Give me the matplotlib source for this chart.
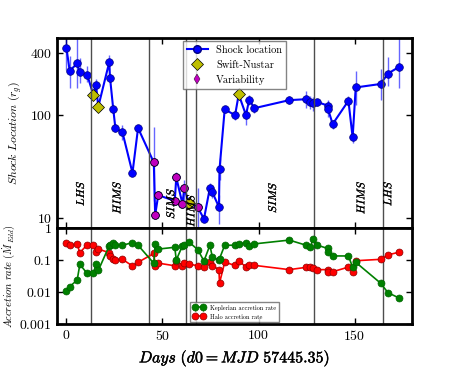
import numpy as np
import matplotlib
matplotlib.use('Agg')
import matplotlib.pyplot as plt
import matplotlib.patheffects as pe
from matplotlib.lines import Line2D
from matplotlib.ticker import FixedLocator, NullLocator

plt.rcParams['font.family'] = 'serif'
plt.rcParams['font.serif'] = ['cmr10', 'DejaVu Serif']
plt.rcParams['mathtext.fontset'] = 'cm'
plt.rcParams['axes.formatter.use_mathtext'] = True

# days since MJD 57445.35
days = [0, 1.7, 5.6, 7.0, 10.8, 14.1, 15.4, 16.6, 22.3, 22.7, 24.4, 25.5, 29.2, 34.4,
        37.3, 45.5, 46.2, 47.8, 56.4, 57.2, 60.4, 61.4, 63.7, 68.4, 71.6, 74.7, 76.0,
        79.4, 79.7, 82.4, 87.8, 89.7, 93.5, 95.1, 97.9, 116.0, 124.8, 126.9, 128.4,
        130.7, 136.0, 136.1, 138.6, 146.8, 149.0, 150.6, 163.5, 167.4, 173.1]

shock = [454, 270, 318, 260, 248, 156, 196, 121, 327, 232, 114, 75, 68, 27.5,
         75, 34.7, 10.7, 16.7, 14.7, 24.8, 13.8, 19.7, 13.9, 12.7, 9.8, 19.7, 17.8,
         12.8, 29.7, 114, 100, 159, 100, 141, 117, 140, 143, 134, 131,
         134, 124, 116, 82, 138, 60.7, 186, 201, 254, 294]
shock_lo = [180, 85, 135, 55, 40, 0, 30, 0, 50, 20, 8, 7, 10, 1,
            5, 20, 0.5, 1, 1, 3, 1, 5, 0, 7, 0.5, 2, 2,
            4, 6, 8, 10, 0, 20, 15, 12, 12, 25, 20, 20,
            10, 15, 20, 8, 15, 7, 60, 60, 60, 110]
shock_hi = [250, 110, 300, 100, 55, 0, 30, 0, 60, 20, 8, 7, 12, 1,
            5, 42, 0.5, 1, 1, 3, 1, 4, 0, 7, 0.5, 2, 2,
            4, 9, 8, 10, 0, 15, 15, 12, 12, 30, 20, 20,
            10, 15, 20, 8, 15, 7, 80, 80, 110, 300]

swift_days = [14.1, 16.6, 63.7, 89.7]
swift_vals = [156, 121, 13.9, 159]

var_days = [45.5, 46.2, 47.8, 56.4, 57.2, 60.4, 61.4, 68.4]
var_vals = [34.7, 10.7, 16.7, 14.7, 24.8, 13.8, 19.7, 12.7]

kep = [0.011, 0.0148, 0.0234, 0.073, 0.038, 0.038, 0.075, 0.047, 0.28, 0.30, 0.35, 0.29, 0.29, 0.35,
       0.29, 0.079, 0.31, 0.22, 0.25, 0.10, 0.28, 0.29, 0.37, 0.21, 0.093, 0.29, 0.12,
       0.10, 0.11, 0.29, 0.29, 0.31, 0.35, 0.28, 0.32, 0.42, 0.29, 0.25, 0.45,
       0.29, 0.23, 0.175, 0.134, 0.134, 0.059, 0.085, 0.019, 0.0095, 0.0065]
halo = [0.34, 0.29, 0.31, 0.17, 0.30, 0.30, 0.18, 0.22, 0.17, 0.137, 0.105, 0.10, 0.105, 0.065,
        0.085, 0.16, 0.067, 0.08, 0.066, 0.095, 0.067, 0.078, 0.075, 0.066, 0.06, 0.085, 0.067,
        0.05, 0.019, 0.085, 0.068, 0.095, 0.06, 0.068, 0.068, 0.05, 0.059, 0.059, 0.058,
        0.05, 0.05, 0.043, 0.043, 0.06, 0.043, 0.095, 0.105, 0.145, 0.175]

state_lines = [13, 43, 62, 67.5, 129, 165]
state_labels = [(7, 'LHS'), (26, 'HIMS'), (54, 'SIMS'), (64.5, 'HIMS'),
                (107, 'SIMS'), (153, 'HIMS'), (167, 'LHS')]
state_label_y = [17.5, 16, 14, 12, 16, 16, 17.5]

fig = plt.figure(figsize=(4.58, 3.82), dpi=100)
ax1 = fig.add_axes([0.124, 0.403, 0.776, 0.497])
ax2 = fig.add_axes([0.124, 0.152, 0.776, 0.251], sharex=ax1)

# top panel: shock location
ax1.errorbar(days, shock, yerr=[shock_lo, shock_hi], fmt='none', ecolor='blue',
             elinewidth=1, alpha=0.6, capsize=0)
ax1.plot(days, shock, '-o', color='blue', lw=1.5, ms=5.5, mec='navy', mew=0.5)
ax1.plot(swift_days, swift_vals, 'D', color='y', mec='k', mew=0.5, ms=6, ls='none')
ax1.plot(var_days, var_vals, 'o', color='m', mec='k', mew=0.5, ms=5.5, ls='none')

for d in state_lines:
    ax1.axvline(d, color='0.3', lw=1)
    ax2.axvline(d, color='0.3', lw=1)
for (d, lab), y in zip(state_labels, state_label_y):
    ax1.text(d, y, '$' + lab + '$', rotation=90, ha='center', va='center', fontsize=8,
             path_effects=[pe.withStroke(linewidth=0.2, foreground='k')])

ax1.set_yscale('log')
ax1.set_ylim(8, 560)
ax1.yaxis.set_major_locator(FixedLocator([10, 100, 400]))
ax1.yaxis.set_minor_locator(NullLocator())
ax1.set_yticklabels(['$10$', '$100$', '$400$'])
ax1.set_ylabel(r'$Shock\ Location\ (r_g)$', fontsize=8.5)
ax1.tick_params(labelbottom=False)

handles = [Line2D([], [], color='blue', marker='o', lw=1.5, ms=5.5, mec='navy'),
           Line2D([], [], color='y', marker='D', ls='none', ms=6, mec='k', mew=0.5),
           Line2D([], [], color='m', marker='d', ls='none', ms=5, mec='k', mew=0.3)]
ax1.legend(handles, ['Shock location', 'Swift-Nustar', 'Variability'], loc='upper center',
           fontsize=7.5, fancybox=False, edgecolor='0.4', borderaxespad=0.3,
           handlelength=2.0)

# bottom panel: accretion rates
kep_line = ax2.errorbar(days, kep, yerr=np.array(kep) * 0.15, fmt='-o', color='green', lw=1.2,
                        ms=5, mec='darkgreen', mew=0.5, elinewidth=0.8, capsize=0)
halo_line, = ax2.plot(days, halo, '-o', color='red', lw=1.2, ms=5, mec='darkred', mew=0.5)
ax2.set_yscale('log')
ax2.set_ylim(0.001, 1)
ax2.yaxis.set_major_locator(FixedLocator([0.001, 0.01, 0.1, 1]))
ax2.yaxis.set_minor_locator(NullLocator())
ax2.set_yticklabels(['$0.001$', '$0.01$', '$0.1$', '$1$'])
ax2.set_ylabel(r'$Accretion\ rate\ (\dot M_{Edd})$', fontsize=7.5, labelpad=2)
ax2.set_xlim(-5, 180)
ax2.xaxis.set_major_locator(FixedLocator([0, 50, 100, 150]))
ax2.set_xticklabels(['$0$', '$50$', '$100$', '$150$'])
ax2.set_xlabel(r'$Days\ (d0 = MJD\ 57445.35)$', fontsize=11.5, labelpad=4,
               path_effects=[pe.withStroke(linewidth=0.3, foreground='k')])
ax2.legend([kep_line, halo_line], ['Keplerian accretion rate', 'Halo accretion rate'],
           loc='lower center', fontsize=4.5, fancybox=False, edgecolor='0.4',
           borderaxespad=0.3, handlelength=2.0, numpoints=2)

for ax in (ax1, ax2):
    for s in ax.spines.values():
        s.set_linewidth(2)
    ax.tick_params(direction='in', top=True, right=True, labelsize=10, width=1, length=4)

fig.savefig('out.png', dpi=100)
